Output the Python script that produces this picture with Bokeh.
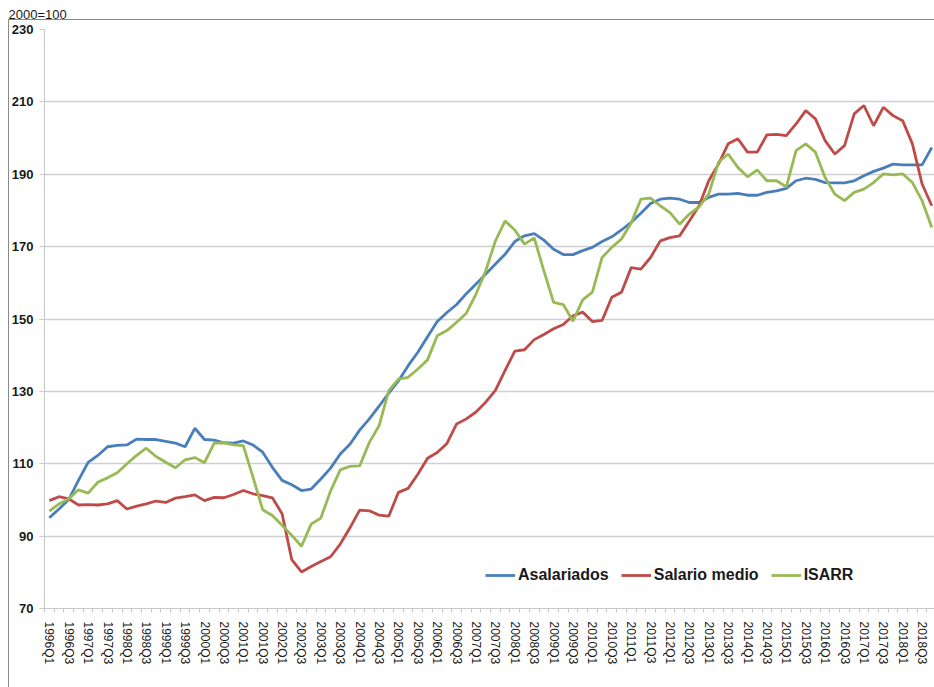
from bokeh.plotting import figure
from bokeh.models import FixedTicker, Legend, LegendItem, Range1d, Title, InlineStyleSheet
from bokeh.embed import file_html
from bokeh.resources import INLINE

# ---- data ----
quarters = [f"{y}Q{q}" for y in range(1996, 2019) for q in range(1, 5)]

asalariados = [
    95.1, 97.5, 100.1, 105.4, 110.4, 112.3, 114.7, 115.1, 115.2, 116.8,
    116.7, 116.7, 116.2, 115.7, 114.7, 119.8, 116.7, 116.5, 115.8, 115.7,
    116.3, 115.2, 113.2, 109.0, 105.4, 104.2, 102.6, 103.0, 105.8, 108.8,
    112.7, 115.4, 119.3, 122.4, 125.9, 129.5, 132.9, 137.1, 140.8, 145.1,
    149.3, 151.8, 154.0, 157.0, 159.7, 162.4, 165.2, 167.9, 171.4, 173.0,
    173.6, 171.8, 169.3, 167.8, 167.8, 168.9, 169.8, 171.4, 172.7, 174.6,
    176.7, 179.2, 181.9, 183.1, 183.4, 183.1, 182.2, 182.2, 183.6, 184.5,
    184.5, 184.7, 184.2, 184.2, 185.0, 185.4, 186.1, 188.2, 188.9, 188.6,
    187.7, 187.6, 187.6, 188.2, 189.6, 190.8, 191.7, 192.8, 192.6, 192.6,
    192.6, 197.4,
]

salario_medio = [
    99.8, 100.9, 100.3, 98.6, 98.7, 98.6, 98.9, 99.8, 97.5, 98.3,
    98.9, 99.7, 99.3, 100.5, 100.9, 101.4, 99.8, 100.7, 100.6, 101.5,
    102.6, 101.7, 101.2, 100.6, 96.2, 83.5, 80.1, 81.6, 83.0, 84.3,
    87.8, 92.3, 97.2, 97.0, 95.8, 95.5, 102.1, 103.2, 107.1, 111.5,
    113.1, 115.6, 121.0, 122.4, 124.3, 127.0, 130.3, 135.8, 141.1, 141.5,
    144.3, 145.7, 147.3, 148.5, 150.9, 151.9, 149.3, 149.6, 156.0, 157.4,
    164.2, 163.8, 167.0, 171.6, 172.5, 173.0, 177.1, 181.3, 188.2, 192.8,
    198.4, 199.8, 196.1, 196.1, 200.9, 201.0, 200.7, 203.9, 207.6, 205.3,
    199.3, 195.6, 197.9, 206.7, 209.0, 203.4, 208.5, 206.2, 204.8, 198.4,
    187.3, 181.3,
]

isarr = [
    96.9, 98.9, 100.3, 102.8, 101.9, 104.9, 106.1, 107.5, 110.0, 112.3,
    114.3, 112.0, 110.4, 108.9, 111.1, 111.7, 110.3, 115.7, 115.8, 115.2,
    115.0, 106.3, 97.3, 95.7, 93.0, 90.2, 87.2, 93.3, 95.0, 102.5,
    108.3, 109.3, 109.4, 115.9, 120.5, 130.2, 133.4, 133.9, 136.2, 138.7,
    145.4, 146.8, 149.1, 151.6, 156.9, 163.3, 171.6, 177.1, 174.6, 170.7,
    172.4, 163.3, 154.6, 154.0, 149.4, 155.3, 157.4, 167.0, 169.8, 172.1,
    176.5, 183.1, 183.4, 181.3, 179.4, 176.2, 179.0, 181.0, 184.5, 193.3,
    195.6, 191.9, 189.3, 191.2, 188.2, 188.2, 186.5, 196.5, 198.4, 196.1,
    189.1, 184.5, 182.7, 185.0, 185.9, 187.7, 190.1, 189.8, 190.1, 187.7,
    182.7, 175.3,
]

series_names = ["Asalariados", "Salario medio", "ISARR"]
y_ticks = [70, 90, 110, 130, 150, 170, 190, 210, 230]
title_text = "2000=100"

# ---- figure ----
FONT = "Liberation Sans"
x = list(range(len(quarters)))

border_css = InlineStyleSheet(css="""
:host::after {
  content: "";
  position: absolute;
  left: 8px; top: 19px; right: 0; bottom: 0;
  border-left: 1px solid #8a8a8a;
  border-top: 1px solid #8a8a8a;
  pointer-events: none;
}
""")

p = figure(width=934, height=687, output_backend="svg", toolbar_location=None,
           x_range=Range1d(-0.5, 91.28), y_range=Range1d(70, 230),
           min_border_left=44, min_border_right=0, min_border_top=29,
           min_border_bottom=79, outline_line_color=None,
           background_fill_color="white", border_fill_color="white",
           stylesheets=[border_css])

p.title = Title(text=title_text, align="left", text_font=FONT,
                text_font_size="13px", text_font_style="normal",
                text_color="#1a1a1a", vertical_align="top",
                standoff=12, offset=-36)

colors = ["#4A7EBB", "#BE4B48", "#98B954"]
rens = []
for vals, c in zip([asalariados, salario_medio, isarr], colors):
    rens.append(p.line(x, vals, line_color=c, line_width=2.8))

# y axis
p.yaxis.ticker = FixedTicker(ticks=y_ticks)
p.yaxis.axis_line_color = "#c8c8c8"
p.yaxis.major_tick_line_color = "#c8c8c8"
p.yaxis.major_tick_out = 5
p.yaxis.major_tick_in = 0
p.yaxis.minor_tick_line_color = None
p.yaxis.major_label_standoff = 6
p.yaxis.major_label_text_font = FONT
p.yaxis.major_label_text_font_style = "bold"
p.yaxis.major_label_text_font_size = "13px"
p.yaxis.major_label_text_color = "#1a1a1a"

# x axis
major = x[::2]
minor = [i - 0.5 for i in range(len(quarters) + 1)]
p.xaxis.ticker = FixedTicker(ticks=major, minor_ticks=minor)
p.xaxis.major_label_overrides = {i: quarters[i] for i in major}
p.xaxis.major_label_orientation = "vertical"
p.xaxis.axis_line_color = "#c8c8c8"
p.xaxis.major_tick_line_color = None
p.xaxis.major_tick_out = 0
p.xaxis.major_tick_in = 0
p.xaxis.minor_tick_line_color = "#c8c8c8"
p.xaxis.minor_tick_out = 4
p.xaxis.minor_tick_in = 0
p.xaxis.major_label_standoff = 9
p.xaxis.major_label_text_font = FONT
p.xaxis.major_label_text_font_size = "12px"
p.xaxis.major_label_text_color = "#1a1a1a"

# grid
p.xgrid.grid_line_color = None
p.ygrid.grid_line_color = "#d0d0d0"
p.ygrid.grid_line_width = 1.3

# legend
legend = Legend(items=[LegendItem(label=n, renderers=[r]) for n, r in zip(series_names, rens)],
                orientation="horizontal", location=(441, 24),
                padding=0, margin=0, spacing=12, label_standoff=3,
                glyph_width=30, glyph_height=16, label_height=16,
                border_line_color=None, background_fill_alpha=0,
                label_text_font=FONT, label_text_font_style="bold",
                label_text_font_size="16px", label_text_color="#1a1a1a")
p.add_layout(legend, "center")

open("out.html", "w").write(file_html(p, INLINE))
